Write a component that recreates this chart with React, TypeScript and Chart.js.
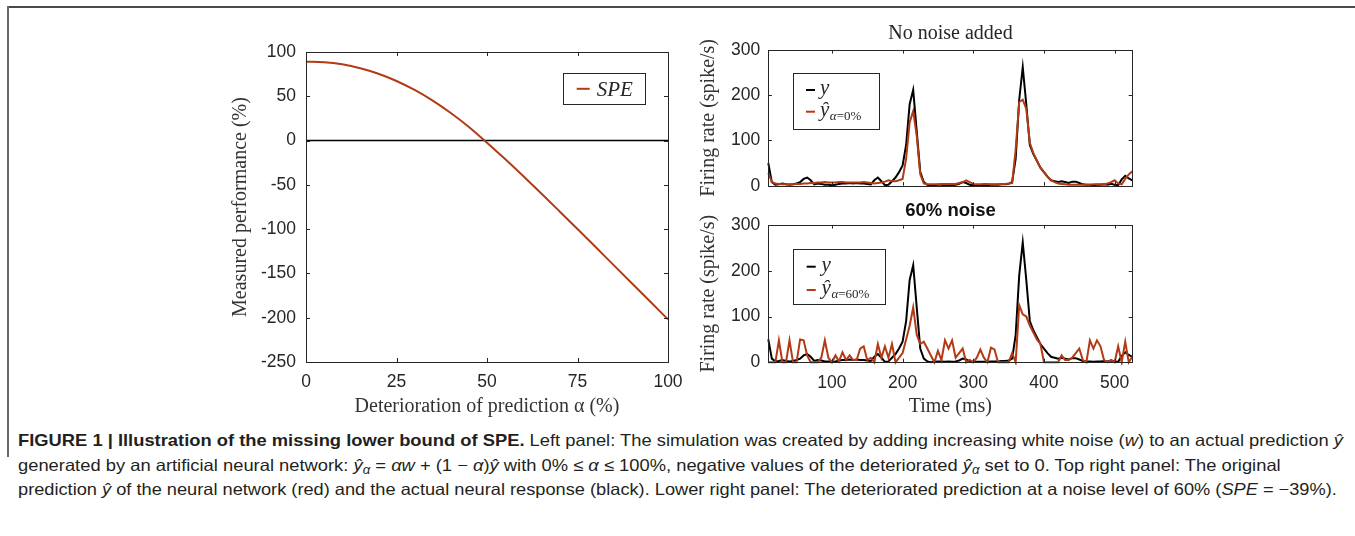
import { useEffect, useRef } from "react";
import { Chart, registerables } from "chart.js";

Chart.register(...registerables);

const RED = "#B33A14";
const INK = "#262626";
const SERIF = "'Liberation Serif', 'Times New Roman', serif";
const SANS = "'Liberation Sans', Arial, Helvetica, sans-serif";

// ---------- Left panel data ----------
const alphaPercent = [0, 5, 10, 15, 20, 25, 30, 35, 40, 45, 50, 55, 60, 65, 70, 75, 80, 85, 90, 95, 100];
const spePercent = [89, 88.5, 86.1, 81.7, 75.5, 67.3, 57.2, 45.2, 31.2, 15.4, -2.4, -20.9, -40.1, -59.7, -79.7, -99.9, -120.2, -140.6, -161, -181.4, -201.9];
const alphaTicks = [0, 25, 50, 75, 100];
const speTicks = [-250, -200, -150, -100, -50, 0, 50, 100];

// ---------- Right panels data ----------
const timeMs = [
  10, 15, 20, 25, 30, 35, 40, 45, 50, 55,
  60, 65, 70, 75, 80, 85, 90, 95, 100, 105,
  110, 115, 120, 125, 130, 135, 140, 145, 150, 155,
  160, 165, 170, 175, 180, 185, 190, 195, 200, 205,
  210, 215, 220, 225, 230, 235, 240, 245, 250, 255,
  260, 265, 270, 275, 280, 285, 290, 295, 300, 305,
  310, 315, 320, 325, 330, 335, 340, 345, 350, 355,
  360, 365, 370, 375, 380, 385, 390, 395, 400, 405,
  410, 415, 420, 425, 430, 435, 440, 445, 450, 455,
  460, 465, 470, 475, 480, 485, 490, 495, 500, 505,
  510, 515, 520, 525,
];
const responseY = [
  50, 8, 2, 3, 5, 3, 2, 3, 5, 8,
  15, 18, 12, 3, 5, 4, 2, 2, 1, 2,
  4, 5, 5, 6, 5, 6, 5, 5, 4, 3,
  12, 18, 10, 1, 2, 10, 18, 30, 45, 90,
  180, 212, 120, 30, 8, 2, 0, 1, 2, 2,
  1, 2, 1, 2, 4, 8, 6, 2, 1, 1,
  1, 1, 1, 2, 2, 2, 3, 3, 4, 8,
  60, 190, 262, 180, 90, 70, 55, 40, 30, 20,
  12, 10, 8, 10, 8, 6, 9, 9, 6, 3,
  2, 2, 1, 2, 2, 3, 2, 4, 2, 1,
  14, 22, 16, 12,
];
const predictionClean = [
  28, 8, 5, 4, 3, 3, 3, 3, 4, 4,
  5, 5, 6, 6, 7, 7, 8, 7, 7, 7,
  8, 8, 7, 7, 7, 7, 7, 8, 7, 6,
  5, 6, 7, 9, 12, 10, 10, 12, 15, 60,
  140, 165, 110, 25, 5, 3, 3, 3, 3, 4,
  4, 4, 4, 4, 6, 8, 12, 8, 4, 3,
  3, 4, 4, 3, 3, 3, 4, 4, 5, 6,
  80, 185, 190, 170, 95, 72, 55, 40, 30, 20,
  12, 8, 5, 4, 3, 2, 2, 2, 2, 2,
  2, 2, 3, 3, 3, 3, 5, 8, 12, 5,
  3, 15, 25, 32,
];
const predictionNoisy60 = [
  0, 0, 0, 48, 0, 0, 48, 0, 0, 50,
  48, 15, 0, 0, 0, 10, 48, 10, 0, 15,
  2, 22, 5, 15, 5, 5, 30, 35, 5, 10,
  0, 40, 10, 35, 10, 40, 0, 10, 20, 50,
  80, 120, 60, 40, 45, 30, 15, 0, 25, 5,
  48, 30, 48, 10, 20, 30, 0, 5, 0, 10,
  28, 10, 0, 32, 28, 0, 0, 0, 0, 20,
  0, 125, 105, 100, 80, 65, 50, 40, 0, 0,
  0, 0, 0, 15, 5, 5, 10, 20, 30, 5,
  0, 48, 30, 48, 35, 5, 0, 5, 0, 35,
  0, 45, 0, 12,
];
const timeTicks = [100, 200, 300, 400, 500];
const rateTicks = [0, 100, 200, 300];

const toPoints = (xs: number[], ys: number[]) => xs.map((x, i) => ({ x, y: ys[i] }));

// ---------- Plugins ----------
const boxTicks = {
  id: "boxTicks",
  afterDatasetsDraw(chart: any, _args: any, o: any) {
    const { ctx, chartArea: a, scales } = chart;
    const L = o.length ?? 4;
    ctx.save();
    ctx.strokeStyle = INK;
    ctx.lineWidth = 1;
    ctx.beginPath();
    const xs = scales.x;
    const ys = scales.y;
    xs.ticks.forEach((t: any) => {
      const p = Math.round(xs.getPixelForValue(t.value)) + 0.5;
      ctx.moveTo(p, a.bottom);
      ctx.lineTo(p, a.bottom - L);
      ctx.moveTo(p, a.top);
      ctx.lineTo(p, a.top + L);
    });
    ys.ticks.forEach((t: any) => {
      const p = Math.round(ys.getPixelForValue(t.value)) + 0.5;
      ctx.moveTo(a.left, p);
      ctx.lineTo(a.left + L, p);
      ctx.moveTo(a.right, p);
      ctx.lineTo(a.right - L, p);
    });
    ctx.stroke();
    ctx.strokeRect(Math.round(a.left) + 0.5, Math.round(a.top) + 0.5, Math.round(a.width), Math.round(a.height));
    ctx.restore();
  },
};

const boxLegend = {
  id: "boxLegend",
  afterDraw(chart: any, _args: any, o: any) {
    if (!o || !o.show) return;
    const { ctx, chartArea: a } = chart;
    const x0 = o.anchor === "right" ? a.right - o.dx - o.w : a.left + o.dx;
    const y0 = a.top + o.dy;
    ctx.save();
    ctx.fillStyle = "#fff";
    ctx.fillRect(x0, y0, o.w, o.h);
    ctx.strokeStyle = INK;
    ctx.lineWidth = 1;
    ctx.strokeRect(Math.round(x0) + 0.5, Math.round(y0) + 0.5, Math.round(o.w), Math.round(o.h));
    const items = chart.data.datasets.filter((d: any) => d.label);
    items.forEach((d: any, i: number) => {
      const cy = y0 + o.row0 + i * o.rowGap;
      ctx.strokeStyle = d.borderColor;
      ctx.lineWidth = 2;
      ctx.beginPath();
      ctx.moveTo(x0 + o.lineX, cy);
      ctx.lineTo(x0 + o.lineX + o.lineLen, cy);
      ctx.stroke();
      const m = /^(.*?)_\{(.*)\}$/.exec(d.label);
      const main = m ? m[1] : d.label;
      const sub = m ? m[2] : "";
      ctx.fillStyle = INK;
      ctx.textAlign = "left";
      ctx.textBaseline = "alphabetic";
      ctx.font = `italic ${o.size}px ${SERIF}`;
      let tx = x0 + o.textX;
      const base = cy + o.baseDy;
      ctx.fillText(main, tx, base);
      tx += ctx.measureText(main).width + 0.5;
      if (sub) {
        for (const ch of sub) {
          ctx.font = (/[α-ω]/.test(ch) ? "italic " : "") + `${o.subSize}px ${SERIF}`;
          ctx.fillText(ch, tx, base + o.subDrop);
          tx += ctx.measureText(ch).width;
        }
      }
    });
    ctx.restore();
  },
};

// ---------- Chart configs ----------
function fixedY(width: number) {
  return (s: any) => {
    s.width = width;
    s.paddingTop = 0;
    s.paddingBottom = 0;
  };
}
function fixedX(height: number) {
  return (s: any) => {
    s.height = height;
    s.paddingLeft = 0;
    s.paddingRight = 0;
  };
}
const tickFont = { family: SANS, size: 17.5 };
const titleFont = { family: SERIF, size: 20 };

function spacerAxis(width: number): any {
  return {
    type: "linear",
    position: "right",
    display: true,
    afterFit: fixedY(width),
    grid: { display: false, drawTicks: false },
    border: { display: false },
    ticks: { display: false },
  };
}

function leftConfig(): any {
  return {
    type: "line",
    data: {
      datasets: [
        {
          label: "SPE",
          data: toPoints(alphaPercent, spePercent),
          borderColor: RED,
          borderWidth: 2,
          pointRadius: 0,
          cubicInterpolationMode: "monotone",
          clip: 3,
        },
        {
          label: "",
          data: toPoints([0, 100], [0, 0]),
          borderColor: "#000",
          borderWidth: 1.5,
          pointRadius: 0,
        },
      ],
    },
    options: {
      animation: false,
      responsive: true,
      maintainAspectRatio: false,
      layout: { padding: { left: 0, top: 12, right: 22, bottom: 0 } },
      plugins: {
        legend: { display: false },
        tooltip: { enabled: false },
        boxLegend: {
          show: true, anchor: "right", dx: 23, dy: 21.3, w: 82.3, h: 31,
          row0: 15.5, rowGap: 0, lineX: 14, lineLen: 13, textX: 34, size: 21, baseDy: 6.7,
          subSize: 13, subDrop: 4,
        },
        boxTicks: { length: 4 },
      },
      scales: {
        x: {
          type: "linear", min: 0, max: 100,
          afterBuildTicks: (s: any) => { s.ticks = alphaTicks.map((v) => ({ value: v })); },
          afterFit: fixedX(58),
          grid: { display: false, drawTicks: false },
          border: { display: false },
          ticks: { font: tickFont, color: INK, padding: 10, maxRotation: 0 },
          title: { display: true, text: "Deterioration of prediction α (%)", font: titleFont, color: "#333", padding: { top: 0, bottom: 1 } },
        },
        y: {
          type: "linear", min: -250, max: 100,
          afterBuildTicks: (s: any) => { s.ticks = speTicks.map((v) => ({ value: v })); },
          afterFit: fixedY(106),
          grid: { display: false, drawTicks: false },
          border: { display: false },
          ticks: { font: tickFont, color: INK, padding: 10 },
          title: { display: true, text: "Measured performance (%)", font: titleFont, color: "#333", padding: { top: 29, bottom: 0 } },
        },
      },
    },
    plugins: [boxTicks, boxLegend],
  };
}

function rightConfig(kind: "clean" | "noisy"): any {
  const clean = kind === "clean";
  return {
    type: "line",
    data: {
      datasets: [
        {
          label: "y",
          data: toPoints(timeMs, responseY),
          borderColor: "#000",
          borderWidth: 2,
          pointRadius: 0,
          tension: 0,
          order: 2,
          clip: 3,
        },
        {
          label: clean ? "ŷ_{α=0%}" : "ŷ_{α=60%}",
          data: toPoints(timeMs, clean ? predictionClean : predictionNoisy60),
          borderColor: RED,
          borderWidth: 2,
          pointRadius: 0,
          tension: 0,
          order: 1,
          clip: 3,
        },
      ],
    },
    options: {
      animation: false,
      responsive: true,
      maintainAspectRatio: false,
      layout: { padding: 0 },
      plugins: {
        legend: { display: false },
        tooltip: { enabled: false },
        title: clean
          ? { display: true, text: "No noise added", font: { family: SERIF, size: 20, weight: "normal" }, color: INK, padding: { top: 21.5, bottom: 4.5 } }
          : { display: true, text: "60% noise", font: { family: SANS, size: 18.5, weight: "bold" }, color: "#111", padding: { top: 0, bottom: 2.8 } },
        boxLegend: clean
          ? { show: true, anchor: "left", dx: 25, dy: 23.3, w: 85.7, h: 56, row0: 16.7, rowGap: 21.7, lineX: 12.7, lineLen: 9, textX: 26.7, size: 21, baseDy: 4, subSize: 13, subDrop: 4.3 }
          : { show: true, anchor: "left", dx: 25, dy: 24.3, w: 91.7, h: 55, row0: 17.4, rowGap: 23.3, lineX: 13.4, lineLen: 9, textX: 28.3, size: 21, baseDy: 4, subSize: 13, subDrop: 4.3 },
        boxTicks: { length: 3.6 },
      },
      scales: {
        x: {
          type: "linear", min: 10, max: 525,
          afterBuildTicks: (s: any) => { s.ticks = timeTicks.map((v) => ({ value: v })); },
          afterFit: fixedX(clean ? 14.3 : 57.7),
          grid: { display: false, drawTicks: false },
          border: { display: false },
          ticks: { display: !clean, font: tickFont, color: INK, padding: 10, maxRotation: 0 },
          title: clean
            ? { display: false }
            : { display: true, text: "Time (ms)", font: titleFont, color: "#333", padding: { top: 0, bottom: 1.3 } },
        },
        y: {
          type: "linear", min: 0, max: 300,
          afterBuildTicks: (s: any) => { s.ticks = rateTicks.map((v) => ({ value: v })); },
          afterFit: fixedY(78.3),
          grid: { display: false, drawTicks: false },
          border: { display: false },
          ticks: { font: tickFont, color: INK, padding: 8 },
          title: { display: true, text: "Firing rate (spike/s)", font: titleFont, color: "#333", padding: { top: 7, bottom: 0 } },
        },
        spacer: spacerAxis(78.7),
      },
    },
    plugins: [boxTicks, boxLegend],
  };
}

function ChartBox({ make, left, top, width, height }: { make: () => any; left: number; top: number; width: number; height: number }) {
  const ref = useRef<HTMLCanvasElement>(null);
  useEffect(() => {
    const chart = new Chart(ref.current as HTMLCanvasElement, make());
    return () => chart.destroy();
  }, []);
  return (
    <div style={{ position: "absolute", left, top, width, height }}>
      <canvas ref={ref} />
    </div>
  );
}

const subStyle: any = { fontSize: "0.72em", verticalAlign: "baseline", position: "relative", top: "0.28em" };

function CaptionLine({ top, target, children }: { top: number; target: number; children: any }) {
  const ref = useRef<HTMLDivElement>(null);
  useEffect(() => {
    const el = ref.current;
    if (!el) return;
    el.style.transform = "none";
    const w = el.scrollWidth;
    if (w > 0) el.style.transform = `scaleX(${target / w})`;
  }, [target]);
  return (
    <div
      ref={ref}
      style={{
        position: "absolute", left: 18, top, whiteSpace: "nowrap", transformOrigin: "0 0",
        fontFamily: "'Liberation Sans Narrow', 'Liberation Sans', Arial, sans-serif",
        fontSize: 16.5, lineHeight: "20px", color: "#231f20", display: "inline-block",
      }}
    >
      {children}
    </div>
  );
}

export default function App() {
  return (
    <div style={{ position: "absolute", left: 0, top: 0, width: 1355, height: 536, background: "#fff", overflow: "hidden" }}>
      <div style={{ position: "absolute", left: 7, top: 6, width: 1348, height: 1.5, background: "#4a4a4a" }} />
      <div style={{ position: "absolute", left: 7, top: 6, width: 1.5, height: 451, background: "#6a6a6a" }} />
      <ChartBox make={leftConfig} left={200} top={40} width={490} height={380} />
      <ChartBox make={() => rightConfig("clean")} left={690} top={0} width={521} height={200} />
      <ChartBox make={() => rightConfig("noisy")} left={690} top={200} width={521} height={220} />
      <CaptionLine top={430} target={1325}>
        <b>FIGURE 1 | Illustration of the missing lower bound of SPE.</b> Left panel: The simulation was created by adding increasing white noise (<i>w</i>) to an actual prediction <i>ŷ</i>
      </CaptionLine>
      <CaptionLine top={455} target={1263}>
        generated by an artificial neural network: <i>ŷ</i><sub style={subStyle}><i>α</i></sub> = <i>αw</i> + (1 − <i>α</i>)<i>ŷ</i> with 0% ≤ <i>α</i> ≤ 100%, negative values of the deteriorated <i>ŷ</i><sub style={subStyle}><i>α</i></sub> set to 0. Top right panel: The original
      </CaptionLine>
      <CaptionLine top={479} target={1319}>
        prediction <i>ŷ</i> of the neural network (red) and the actual neural response (black). Lower right panel: The deteriorated prediction at a noise level of 60% (<i>SPE</i> = −39%).
      </CaptionLine>
    </div>
  );
}
